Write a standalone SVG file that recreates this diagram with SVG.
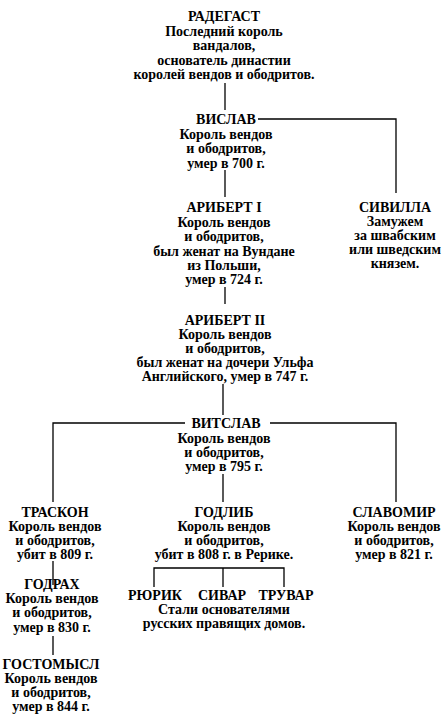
<svg xmlns="http://www.w3.org/2000/svg" width="447" height="720" viewBox="0 0 447 720">
<style>
text{font-family:"Liberation Serif","Times New Roman",serif;font-weight:bold;font-size:14px;fill:#000;text-anchor:middle}
.c line,.c polyline{stroke:#000;stroke-width:1.3;fill:none}
</style>
<rect width="447" height="720" fill="#fff"/>
<g class="c" id="connectors">
<line x1="225" y1="83" x2="225" y2="110"/>
<line x1="225" y1="170" x2="225" y2="197"/>
<polyline points="258,119 396,119 396,193"/>
<line x1="225" y1="287" x2="225" y2="304"/>
<line x1="223" y1="384" x2="223" y2="415"/>
<polyline points="185,423 53,423 53,502"/>
<polyline points="270,423 396,423 396,502"/>
<line x1="223" y1="474" x2="223" y2="502"/>
<line x1="53" y1="561" x2="53" y2="585"/>
<line x1="53" y1="636" x2="53" y2="655"/>
<polyline points="154,587 154,568 284,568 284,587"/>
<line x1="223" y1="568" x2="223" y2="587"/>
</g>
<g id="radegast">
<text x="224" y="21">РАДЕГАСТ</text>
<text x="224" y="36">Последний король</text>
<text x="224" y="50">вандалов,</text>
<text x="224" y="65">основатель династии</text>
<text x="224" y="79">королей вендов и ободритов.</text>
</g>
<g id="vislav">
<text x="226" y="124">ВИСЛАВ</text>
<text x="226" y="139">Король вендов</text>
<text x="226" y="153">и ободритов,</text>
<text x="226" y="168">умер в 700 г.</text>
</g>
<g id="sivilla">
<text x="395" y="212">СИВИЛЛА</text>
<text x="395" y="226">Замужем</text>
<text x="395" y="240">за швабским</text>
<text x="395" y="254">или шведским</text>
<text x="395" y="268">князем.</text>
</g>
<g id="aribert1">
<text x="224" y="212">АРИБЕРТ I</text>
<text x="224" y="227">Король вендов</text>
<text x="224" y="241">и ободритов,</text>
<text x="224" y="256">был женат на Вундане</text>
<text x="224" y="270">из Польши,</text>
<text x="224" y="284">умер в 724 г.</text>
</g>
<g id="aribert2">
<text x="225" y="325">АРИБЕРТ II</text>
<text x="225" y="339">Король вендов</text>
<text x="225" y="353">и ободритов,</text>
<text x="225" y="367">был женат на дочери Ульфа</text>
<text x="225" y="381">Английского, умер в 747 г.</text>
</g>
<g id="vitslav">
<text x="226" y="428">ВИТСЛАВ</text>
<text x="224" y="443">Король вендов</text>
<text x="224" y="457">и ободритов,</text>
<text x="224" y="471">умер в 795 г.</text>
</g>
<g id="traskon">
<text x="55" y="517">ТРАСКОН</text>
<text x="55" y="531">Король вендов</text>
<text x="55" y="545">и ободритов,</text>
<text x="55" y="559">убит в 809 г.</text>
</g>
<g id="godlib">
<text x="224" y="517">ГОДЛИБ</text>
<text x="224" y="531">Король вендов</text>
<text x="224" y="545">и ободритов,</text>
<text x="224" y="559">убит в 808 г. в Рерике.</text>
</g>
<g id="slavomir">
<text x="394" y="517">СЛАВОМИР</text>
<text x="394" y="531">Король вендов</text>
<text x="394" y="545">и ободритов,</text>
<text x="394" y="559">умер в 821 г.</text>
</g>
<g id="godrakh">
<text x="52" y="589">ГОДРАХ</text>
<text x="52" y="603">Король вендов</text>
<text x="52" y="617">и ободритов,</text>
<text x="52" y="632">умер в 830 г.</text>
</g>
<g id="gostomysl">
<text x="51" y="669">ГОСТОМЫСЛ</text>
<text x="51" y="683">Король вендов</text>
<text x="51" y="697">и ободритов,</text>
<text x="51" y="711">умер в 844 г.</text>
</g>
<g id="ryurik"><text x="155" y="600">РЮРИК</text></g>
<g id="sivar"><text x="222" y="600">СИВАР</text></g>
<g id="truvar"><text x="286" y="600">ТРУВАР</text></g>
<g id="founders">
<text x="224" y="614">Стали основателями</text>
<text x="224" y="628">русских правящих домов.</text>
</g>
</svg>
